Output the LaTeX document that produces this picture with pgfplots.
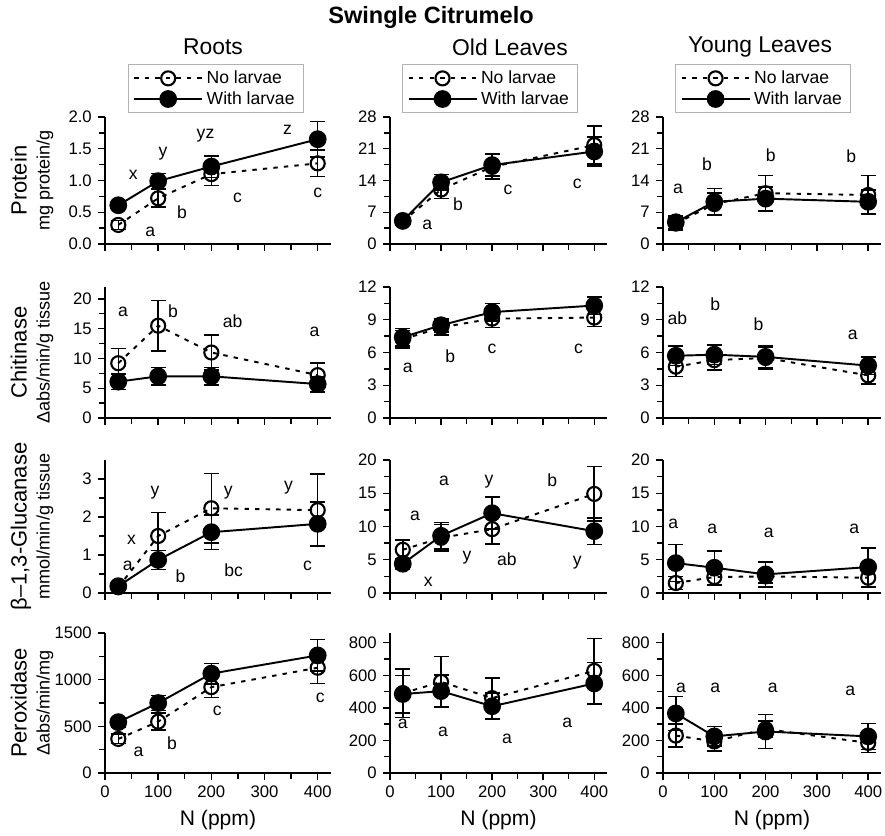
\documentclass[border=0pt]{standalone}
\usepackage{fontspec}
\setmainfont{Liberation Sans}
\usepackage{pgfplots}
\pgfplotsset{compat=1.18}

\tikzset{lt/.style={font=\fontsize{10}{12}\selectfont, inner sep=0pt}}
\pgfplotsset{
  panel/.style={
    scale only axis, xmin=0, xmax=425, clip=false,
    axis x line*=bottom, axis y line*=left,
    axis line style={-, line width=0.9pt},
    tick align=outside, tick style={black, line width=0.8pt},
    major tick length=4pt, minor tick length=3.5pt,
    xtick={0,100,...,400}, minor x tick num=1, minor y tick num=1,
    xticklabels={},
    tick label style={font=\fontsize{9.5}{11}\selectfont,
      /pgf/number format/assume math mode=true, /pgf/number format/1000 sep={}},
    ylabel style={at={(axis description cs:-0.323,0.5)}, anchor=center, align=center},
    xlabel style={font=\fontsize{12}{14}\selectfont},
  },
  c1/.style={panel, width=4.52cm},
  c2/.style={panel, width=4.34cm},
  c3/.style={panel, width=4.36cm},
  bottomrow/.style={xticklabels={0,100,200,300,400}, xlabel={N (ppm)}},
  legtop/.style={
    legend style={at={(#1,1.03)}, anchor=south west, draw=gray!60, line width=0.4pt,
      font=\fontsize{10}{12}\selectfont, inner xsep=3pt, inner ysep=1.5pt, row sep=-1pt,
      cells={anchor=west}},
    legend image code/.code={\draw[mark repeat=2,mark phase=2]
      plot coordinates {(0cm,0cm) (0.68cm,0cm) (1.36cm,0cm)};},
  },
  nolarv/.style={black, line width=1.1pt, dash pattern=on 2.5pt off 3.5pt,
    mark=o, mark size=4pt, mark options={solid, line width=1.2pt},
    error bars/.cd, y dir=both, y explicit,
    error bar style={solid, line width=0.9pt},
    error mark options={rotate=90, mark size=4.3pt, line width=0.9pt, black}},
  withlarv/.style={black, line width=1.1pt, solid,
    mark=*, mark size=4.5pt, mark options={solid, fill=black},
    error bars/.cd, y dir=both, y explicit,
    error bar style={solid, line width=0.9pt},
    error mark options={rotate=90, mark size=4.3pt, line width=0.9pt, black}},
}
\newcommand{\yl}[2]{{\fontsize{12.5}{14}\selectfont #1}\\[1pt]{\fontsize{10.3}{12}\selectfont #2}}

\begin{document}
\begin{tikzpicture}
\path[use as bounding box] (0,0) rectangle (17.70,-16.72);

\node[font=\bfseries\fontsize{13.4}{15}\selectfont] at (8.62,-0.34) {Swingle Citrumelo};
\node[font=\fontsize{13}{15}\selectfont] at (4.26,-0.94) {Roots};
\node[font=\fontsize{13}{15}\selectfont] at (10.20,-0.94) {Old Leaves};
\node[font=\fontsize{13}{15}\selectfont] at (15.20,-0.94) {Young Leaves};

% ---------------- row 1: protein ----------------
\begin{axis}[c1, at={(2.10cm,-4.88cm)}, height=2.54cm, ymin=0, ymax=2.0,
  ytick={0,0.5,...,2.0},
  yticklabel style={/pgf/number format/.cd, fixed, fixed zerofill, precision=1},
  ylabel={\yl{Protein}{mg protein/g}}, legtop=0.10]
\addplot[nolarv] coordinates {(25,0.30) +- (0,0.07) (100,0.72) +- (0,0.14) (200,1.10) +- (0,0.18) (400,1.27) +- (0,0.21)};
\addplot[withlarv] coordinates {(25,0.61) +- (0,0.05) (100,0.99) +- (0,0.12) (200,1.22) +- (0,0.17) (400,1.65) +- (0,0.28)};
\legend{No larvae, With larvae}
\node[lt] at (axis cs:53,1.09) {x};
\node[lt] at (axis cs:109,1.43) {y};
\node[lt] at (axis cs:189,1.70) {yz};
\node[lt] at (axis cs:343,1.80) {z};
\node[lt] at (axis cs:85,0.19) {a};
\node[lt] at (axis cs:145,0.50) {b};
\node[lt] at (axis cs:249,0.72) {c};
\node[lt] at (axis cs:400,0.80) {c};
\end{axis}

\begin{axis}[c2, at={(7.80cm,-4.88cm)}, height=2.54cm, ymin=0, ymax=28,
  ytick={0,7,...,28}, legtop=0.055]
\addplot[nolarv] coordinates {(25,5.0) +- (0,0.8) (100,12.0) +- (0,2.0) (200,17.0) +- (0,2.7) (400,21.8) +- (0,4.2)};
\addplot[withlarv] coordinates {(25,5.1) +- (0,0.6) (100,13.6) +- (0,1.7) (200,17.4) +- (0,2.4) (400,20.4) +- (0,3.2)};
\legend{No larvae, With larvae}
\node[lt] at (axis cs:73,4.3) {a};
\node[lt] at (axis cs:133,8.8) {b};
\node[lt] at (axis cs:231,11.9) {c};
\node[lt] at (axis cs:367,13.2) {c};
\end{axis}

\begin{axis}[c3, at={(13.26cm,-4.88cm)}, height=2.54cm, ymin=0, ymax=28,
  ytick={0,7,...,28}, legtop=0.055]
\addplot[nolarv] coordinates {(25,4.5) +- (0,1.4) (100,8.8) +- (0,2.5) (200,11.2) +- (0,3.9) (400,10.8) +- (0,4.3)};
\addplot[withlarv] coordinates {(25,4.8) +- (0,1.5) (100,9.3) +- (0,2.9) (200,10.0) +- (0,2.6) (400,9.3) +- (0,2.6)};
\legend{No larvae, With larvae}
\node[lt] at (axis cs:29,12.1) {a};
\node[lt] at (axis cs:86,17.5) {b};
\node[lt] at (axis cs:210,19.6) {b};
\node[lt] at (axis cs:367,19.4) {b};
\end{axis}

% ---------------- row 2: chitinase ----------------
\begin{axis}[c1, at={(2.10cm,-8.36cm)}, height=2.62cm, ymin=0, ymax=22,
  ytick={0,5,...,20},
  ylabel={\yl{Chitinase}{Δabs/min/g tissue}}]
\addplot[nolarv] coordinates {(25,9.2) +- (0,2.5) (100,15.5) +- (0,4.2) (200,11.0) +- (0,2.9) (400,7.2) +- (0,2.0)};
\addplot[withlarv] coordinates {(25,6.1) +- (0,1.3) (100,7.0) +- (0,1.5) (200,7.0) +- (0,1.5) (400,5.7) +- (0,1.3)};
\node[lt] at (axis cs:34,17.9) {a};
\node[lt] at (axis cs:128,17.9) {b};
\node[lt] at (axis cs:240,16.3) {ab};
\node[lt] at (axis cs:394,14.4) {a};
\end{axis}

\begin{axis}[c2, at={(7.80cm,-8.36cm)}, height=2.62cm, ymin=0, ymax=12,
  ytick={0,3,...,12}]
\addplot[nolarv] coordinates {(25,7.2) +- (0,0.8) (100,8.3) +- (0,0.7) (200,9.1) +- (0,0.8) (400,9.2) +- (0,0.8)};
\addplot[withlarv] coordinates {(25,7.4) +- (0,0.8) (100,8.5) +- (0,0.6) (200,9.7) +- (0,0.8) (400,10.3) +- (0,0.8)};
\node[lt] at (axis cs:35,4.6) {a};
\node[lt] at (axis cs:118,5.7) {b};
\node[lt] at (axis cs:200,6.3) {c};
\node[lt] at (axis cs:369,6.3) {c};
\end{axis}

\begin{axis}[c3, at={(13.26cm,-8.36cm)}, height=2.62cm, ymin=0, ymax=12,
  ytick={0,3,...,12}]
\addplot[nolarv] coordinates {(25,4.7) +- (0,0.9) (100,5.3) +- (0,0.9) (200,5.5) +- (0,1.0) (400,3.9) +- (0,0.8)};
\addplot[withlarv] coordinates {(25,5.7) +- (0,0.9) (100,5.8) +- (0,0.9) (200,5.6) +- (0,1.0) (400,4.8) +- (0,0.8)};
\node[lt] at (axis cs:28,9.1) {ab};
\node[lt] at (axis cs:102,10.4) {b};
\node[lt] at (axis cs:186,8.6) {b};
\node[lt] at (axis cs:370,7.6) {a};
\end{axis}

% ---------------- row 3: glucanase ----------------
\begin{axis}[c1, at={(2.10cm,-11.86cm)}, height=2.66cm, ymin=0, ymax=3.5,
  ytick={0,1,2,3},
  ylabel={\yl{β–1,3-Glucanase}{mmol/min/g tissue}}]
\addplot[nolarv] coordinates {(25,0.15) +- (0,0.05) (100,1.5) +- (0,0.62) (200,2.23) +- (0,0.92) (400,2.18) +- (0,0.95)};
\addplot[withlarv] coordinates {(25,0.18) +- (0,0.08) (100,0.87) +- (0,0.25) (200,1.6) +- (0,0.45) (400,1.82) +- (0,0.58)};
\node[lt] at (axis cs:43,0.71) {a};
\node[lt] at (axis cs:50,1.4) {x};
\node[lt] at (axis cs:94,2.65) {y};
\node[lt] at (axis cs:142,0.45) {b};
\node[lt] at (axis cs:242,0.61) {bc};
\node[lt] at (axis cs:232,2.65) {y};
\node[lt] at (axis cs:345,2.78) {y};
\node[lt] at (axis cs:381,0.71) {c};
\end{axis}

\begin{axis}[c2, at={(7.80cm,-11.86cm)}, height=2.66cm, ymin=0, ymax=20,
  ytick={0,5,...,20}]
\addplot[nolarv] coordinates {(25,6.5) +- (0,1.5) (100,8.3) +- (0,2.0) (200,9.6) +- (0,2.2) (400,14.9) +- (0,4.1)};
\addplot[withlarv] coordinates {(25,4.4) +- (0,0.8) (100,8.6) +- (0,2.0) (200,12.0) +- (0,2.4) (400,9.3) +- (0,2.0)};
\node[lt] at (axis cs:49,11.6) {a};
\node[lt] at (axis cs:75,1.7) {x};
\node[lt] at (axis cs:106,16.8) {a};
\node[lt] at (axis cs:151,5.3) {y};
\node[lt] at (axis cs:194,16.7) {y};
\node[lt] at (axis cs:229,5.1) {ab};
\node[lt] at (axis cs:318,17.0) {b};
\node[lt] at (axis cs:367,4.5) {y};
\end{axis}

\begin{axis}[c3, at={(13.26cm,-11.86cm)}, height=2.66cm, ymin=0, ymax=20,
  ytick={0,5,...,20}]
\addplot[nolarv] coordinates {(25,1.5) +- (0,1.0) (100,2.4) +- (0,1.3) (200,2.5) +- (0,1.0) (400,2.3) +- (0,1.4)};
\addplot[withlarv] coordinates {(25,4.5) +- (0,2.8) (100,3.8) +- (0,2.5) (200,2.8) +- (0,1.9) (400,3.9) +- (0,2.9)};
\node[lt] at (axis cs:20,10.4) {a};
\node[lt] at (axis cs:96,9.6) {a};
\node[lt] at (axis cs:206,9.0) {a};
\node[lt] at (axis cs:373,9.6) {a};
\end{axis}

% ---------------- row 4: peroxidase ----------------
\begin{axis}[c1, bottomrow, at={(2.10cm,-15.46cm)}, height=2.80cm, ymin=0, ymax=1500,
  ytick={0,500,1000,1500},
  ylabel={\yl{Peroxidase}{Δabs/min/mg}}]
\addplot[nolarv] coordinates {(25,365) +- (0,50) (100,550) +- (0,90) (200,920) +- (0,110) (400,1128) +- (0,170)};
\addplot[withlarv] coordinates {(25,545) +- (0,50) (100,750) +- (0,80) (200,1065) +- (0,110) (400,1260) +- (0,170)};
\node[lt] at (axis cs:63,225) {a};
\node[lt] at (axis cs:126,320) {b};
\node[lt] at (axis cs:211,670) {c};
\node[lt] at (axis cs:405,810) {c};
\end{axis}

\begin{axis}[c2, bottomrow, at={(7.80cm,-15.46cm)}, height=2.80cm, ymin=0, ymax=860,
  ytick={0,200,...,800}]
\addplot[nolarv] coordinates {(25,490) +- (0,150) (100,560) +- (0,155) (200,460) +- (0,125) (400,627) +- (0,200)};
\addplot[withlarv] coordinates {(25,485) +- (0,115) (100,503) +- (0,100) (200,410) +- (0,80) (400,550) +- (0,130)};
\node[lt] at (axis cs:25,300) {a};
\node[lt] at (axis cs:104,255) {a};
\node[lt] at (axis cs:229,211) {a};
\node[lt] at (axis cs:347,310) {a};
\end{axis}

\begin{axis}[c3, bottomrow, at={(13.26cm,-15.46cm)}, height=2.80cm, ymin=0, ymax=860,
  ytick={0,200,...,800}]
\addplot[nolarv] coordinates {(25,230) +- (0,70) (100,194) +- (0,60) (200,270) +- (0,50) (400,185) +- (0,60)};
\addplot[withlarv] coordinates {(25,366) +- (0,105) (100,225) +- (0,60) (200,255) +- (0,105) (400,225) +- (0,80)};
\node[lt] at (axis cs:35,525) {a};
\node[lt] at (axis cs:102,525) {a};
\node[lt] at (axis cs:214,525) {a};
\node[lt] at (axis cs:365,505) {a};
\end{axis}
\end{tikzpicture}
\end{document}
